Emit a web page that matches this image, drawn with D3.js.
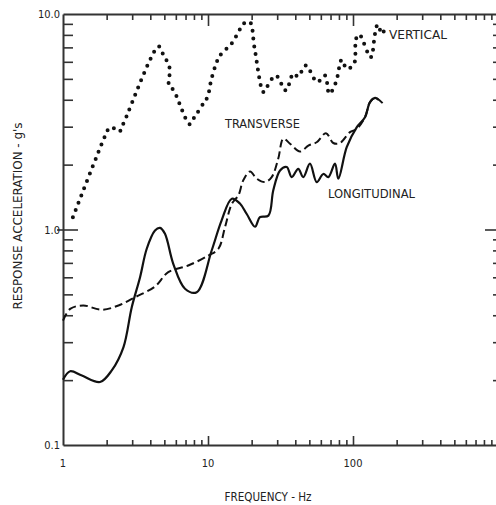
<!DOCTYPE html>
<html>
<head>
<meta charset="utf-8">
<script src="https://cdn.jsdelivr.net/npm/d3@7"></script>
<style>
  body { margin: 0; background: #fff; }
  text { font-family: "DejaVu Sans Condensed", "Liberation Sans Narrow", sans-serif; fill: #222; }
</style>
</head>
<body>
<div id="chart"></div>
<script>
// data (frequency in Hz, response in g's)
var seriesNames = ["VERTICAL", "TRANSVERSE", "LONGITUDINAL"];

var freqVertical = [1.17, 1.99, 2.09, 2.28, 2.45, 2.63, 4.57, 4.87, 5.44, 5.38, 5.80, 7.48, 8.04, 9.28, 9.95,
  10.5, 11.4, 12.1, 14.6, 18.0, 19.5, 20.9, 24.1, 25.4, 29.4, 34.4, 38.8, 41.9, 47.2, 56.7, 64.1, 68.6,
  76.3, 83.6, 90.5, 101.6, 104.9, 110.5, 132.5, 141.8, 148, 158.5, 167];
var accVertical = [1.14, 2.80, 2.97, 2.94, 2.85, 3.14, 7.07, 6.56, 5.60, 4.67, 4.42, 3.08, 3.31, 3.84, 4.14,
  4.91, 5.91, 6.42, 7.32, 9.13, 9.16, 7.01, 4.34, 4.57, 5.18, 4.42, 5.30, 5.13, 5.77, 4.83, 5.18, 4.26,
  4.83, 6.13, 5.57, 5.87, 7.67, 8.03, 6.30, 8.09, 8.94, 8.09, 8.69];

var freqTransverse = [1, 1.12, 1.38, 1.85, 2.41, 3.14, 4.31, 5.32, 7.31, 10.05, 11.8, 13.1, 14.6, 16.2, 17.5,
  19.5, 21.7, 24.7, 27.5, 30.5, 33.1, 36.8, 43.1, 49.2, 56.2, 65.1, 73.1, 81.3, 95.3, 106, 121, 131, 142, 160];
var accTransverse = [0.378, 0.428, 0.444, 0.424, 0.444, 0.485, 0.544, 0.634, 0.681, 0.757, 0.814, 1.025, 1.316,
  1.44, 1.69, 1.86, 1.72, 1.66, 1.75, 2.13, 2.64, 2.50, 2.30, 2.45, 2.54, 2.80, 2.52, 2.52, 2.83, 2.93,
  3.32, 3.90, 4.08, 3.86];

var freqLongitudinal = [1, 1.12, 1.35, 1.80, 2.17, 2.61, 2.98, 3.40, 3.78, 4.31, 4.67, 5.05, 5.76, 6.94, 8.36,
  10.6, 12.4, 14.6, 16.6, 18.5, 21.1, 22.8, 26.1, 28.2, 31.4, 34.9, 37.8, 41.9, 45.4, 50.5, 56.2, 62.4,
  67.6, 75.1, 79.2, 90.5, 106, 121, 131, 142, 150];
var accLongitudinal = [0.201, 0.220, 0.210, 0.196, 0.222, 0.284, 0.436, 0.601, 0.814, 0.989, 1.018, 0.955,
  0.693, 0.531, 0.512, 0.799, 1.10, 1.39, 1.32, 1.18, 1.03, 1.14, 1.16, 1.52, 1.88, 1.95, 1.75, 1.91,
  1.75, 2.02, 1.66, 1.81, 1.75, 2.02, 1.72, 2.41, 2.98, 3.32, 3.90, 4.08, 4.0];

// axis ticks
var xMinorTicks = [2, 3, 4, 5, 6, 7, 8, 9, 20, 30, 40, 50, 60, 70, 80, 90, 200, 300, 400, 500, 600, 700, 800, 900];
var xMajorTicks = [10, 100];
var xTickLabels = ["1", "10", "100"];
var xLabelValues = [1, 10, 100];
var yMinorTicks = [0.2, 0.3, 0.4, 0.5, 0.6, 0.7, 0.8, 0.9, 2, 3, 4, 5, 6, 7, 8, 9];
var yMajorTicks = [1];
var yTickLabels = ["10.0", "1.0", "0.1"];
var yLabelValues = [10, 1, 0.1];

// setup
var svgWidth = 496;
var svgHeight = 505;
var margin = { top: 14, left: 63, bottom: 60 };

var svg = d3.select("#chart")
  .append("svg")
  .attr("width", svgWidth)
  .attr("height", svgHeight);

var xScale = d3.scaleLog().domain([1, 1000]).range([margin.left, margin.left + 435]);
var yScale = d3.scaleLog().domain([0.1, 10]).range([445, margin.top]);

var isMajor = function(v, majors) { return majors.indexOf(v) >= 0; };

// axes: ticks on all four sides, pointing into the plot
var xAll = xMinorTicks.concat(xMajorTicks);
var yAll = yMinorTicks.concat(yMajorTicks);

var bottomAxis = svg.append("g")
  .attr("transform", "translate(0," + yScale(0.1) + ")")
  .call(d3.axisBottom(xScale).tickValues(xAll).tickFormat("").tickSizeInner(-5).tickSizeOuter(0));
bottomAxis.selectAll(".tick line")
  .attr("y2", d => isMajor(d, xMajorTicks) ? -9 : -5);

var topAxis = svg.append("g")
  .attr("transform", "translate(0," + yScale(10) + ")")
  .call(d3.axisTop(xScale).tickValues(xAll).tickFormat("").tickSizeInner(-6).tickSizeOuter(0));
topAxis.selectAll(".tick line")
  .attr("y2", d => isMajor(d, xMajorTicks) ? 12 : 6);

var leftAxis = svg.append("g")
  .attr("transform", "translate(" + xScale(1) + ",0)")
  .call(d3.axisLeft(yScale).tickValues(yAll).tickFormat("").tickSizeInner(-10).tickSizeOuter(0));
leftAxis.selectAll(".tick line")
  .attr("x1", d => isMajor(d, yMajorTicks) ? -6 : 0)
  .attr("x2", d => isMajor(d, yMajorTicks) ? 15 : 10);

var rightAxis = svg.append("g")
  .attr("transform", "translate(" + xScale(1000) + ",0)")
  .call(d3.axisRight(yScale).tickValues(yAll).tickFormat("").tickSizeInner(-5).tickSizeOuter(0));
rightAxis.selectAll(".tick line")
  .attr("x2", d => isMajor(d, yMajorTicks) ? -13 : -5);

svg.selectAll(".domain").attr("stroke", "#333").attr("stroke-width", 2);
svg.selectAll(".tick line").attr("stroke", "#333").attr("stroke-width", 1.6);

// tick labels
svg.selectAll(".xlab")
  .data(xLabelValues)
  .enter()
  .append("text")
  .attr("x", d => xScale(d))
  .attr("y", 467)
  .attr("text-anchor", "middle")
  .style("font-size", "11px")
  .text((d, i) => xTickLabels[i]);

svg.selectAll(".ylab")
  .data(yLabelValues)
  .enter()
  .append("text")
  .attr("x", 60)
  .attr("y", d => yScale(d) + 4)
  .attr("text-anchor", "end")
  .style("font-size", "11px")
  .text((d, i) => yTickLabels[i]);

// axis titles
svg.append("text")
  .attr("x", 268)
  .attr("y", 501)
  .attr("text-anchor", "middle")
  .attr("textLength", 87)
  .attr("lengthAdjust", "spacingAndGlyphs")
  .style("font-size", "12px")
  .text("FREQUENCY - Hz");

svg.append("text")
  .attr("transform", "translate(22,216) rotate(-90)")
  .attr("text-anchor", "middle")
  .attr("textLength", 187)
  .attr("lengthAdjust", "spacingAndGlyphs")
  .style("font-size", "12px")
  .text("RESPONSE ACCELERATION - g's");

// curves
var line = d3.line()
  .x(d => xScale(d[0]))
  .y(d => yScale(d[1]))
  .curve(d3.curveCatmullRom.alpha(0.5));

var zip = (f, a) => f.map((v, i) => [v, a[i]]);

svg.append("path")
  .datum(zip(freqVertical, accVertical))
  .attr("d", line)
  .attr("fill", "none")
  .attr("stroke", "#111")
  .attr("stroke-width", 4)
  .attr("stroke-linecap", "round")
  .attr("stroke-dasharray", "0,7.8");

svg.append("path")
  .datum(zip(freqTransverse, accTransverse))
  .attr("d", line)
  .attr("fill", "none")
  .attr("stroke", "#111")
  .attr("stroke-width", 2)
  .attr("stroke-dasharray", "8,4");

svg.append("path")
  .datum(zip(freqLongitudinal, accLongitudinal))
  .attr("d", line)
  .attr("fill", "none")
  .attr("stroke", "#111")
  .attr("stroke-width", 2.2);

// series labels
var labelPos = [[389, 39, 58], [225, 128, 75], [328, 198, 87]];
svg.selectAll(".slab")
  .data(seriesNames)
  .enter()
  .append("text")
  .attr("x", (d, i) => labelPos[i][0])
  .attr("y", (d, i) => labelPos[i][1])
  .attr("textLength", (d, i) => labelPos[i][2])
  .attr("lengthAdjust", "spacingAndGlyphs")
  .style("font-size", "13px")
  .text(d => d);
</script>
</body>
</html>
